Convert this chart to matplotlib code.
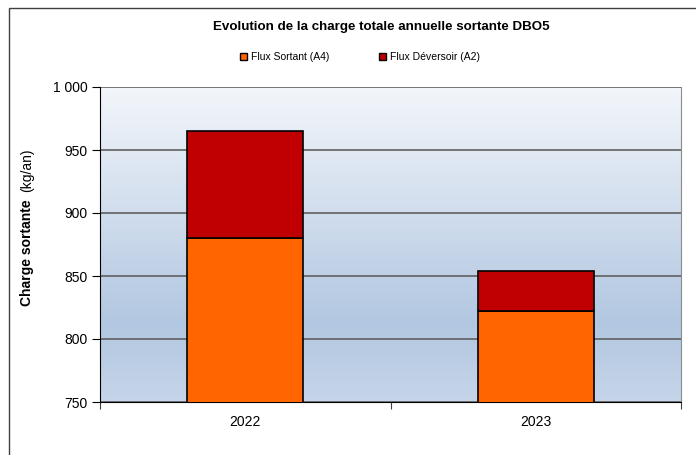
import numpy as np
import matplotlib
matplotlib.use('Agg')
import matplotlib.pyplot as plt
from matplotlib.patches import Patch, Rectangle
from matplotlib.colors import LinearSegmentedColormap

plt.rcParams['font.family'] = ['Liberation Sans', 'DejaVu Sans']

# données
annees = ['2022', '2023']
flux_sortant = [880, 822]    # A4
flux_deversoir = [85, 32]    # A2
yticks = [750, 800, 850, 900, 950, 1000]
ytick_labels = ['750', '800', '850', '900', '950', '1 000']

W, H = 696, 455
fig = plt.figure(figsize=(W / 100, H / 100), dpi=100)
ax = fig.add_axes([100 / W, 1 - 402 / H, (681 - 100) / W, (402 - 87) / H])

# fond dégradé de la zone de tracé
cmap = LinearSegmentedColormap.from_list('fond', [(0, '#c6d5e9'), (0.25, '#b2c7e1'), (1, '#f3f6fb')])
grad = np.linspace(0, 1, 256).reshape(-1, 1)
ax.imshow(grad, aspect='auto', cmap=cmap, origin='lower',
          extent=[-0.5, 1.5, 750, 1000], zorder=0)

x = np.arange(len(annees))
ax.bar(x, flux_sortant, width=0.4, bottom=0, color='#ff6600', edgecolor='black', linewidth=1.2, zorder=3)
ax.bar(x, flux_deversoir, width=0.4, bottom=flux_sortant, color='#c00000', edgecolor='black', linewidth=1.2, zorder=3)

ax.set_xlim(-0.5, 1.5)
ax.set_ylim(750, 1000)
ax.set_yticks(yticks)
ax.set_yticklabels(ytick_labels, fontsize=10)
ax.yaxis.grid(True, color='#606060', linewidth=1.2, zorder=1)
ax.set_axisbelow(True)

ax.set_xticks([-0.5, 0.5, 1.5])
ax.set_xticklabels([])
ax.set_xticks(x, minor=True)
ax.set_xticklabels(annees, minor=True, fontsize=10)
ax.tick_params(axis='x', which='minor', length=0, pad=9)
ax.tick_params(axis='x', which='major', length=5, direction='out', color='#404040')
ax.tick_params(axis='y', length=6, direction='out', pad=3)

ax.spines['top'].set_visible(False)
ax.spines['right'].set_color('#8c8c8c')
ax.spines['left'].set_color('black')
ax.spines['bottom'].set_color('black')

# titre et légende
fig.text(381 / W, 1 - 27 / H, 'Evolution de la charge totale annuelle sortante DBO5',
         ha='center', va='center', fontsize=9.6, fontweight='bold')
handles = [Patch(facecolor='#ff6600', edgecolor='black', label='Flux Sortant (A4)'),
           Patch(facecolor='#c00000', edgecolor='black', label='Flux Déversoir (A2)')]
fig.legend(handles=handles, loc='center', bbox_to_anchor=(360 / W, 1 - 57 / H), ncol=2,
           frameon=False, fontsize=7.5, handlelength=0.7, handleheight=0.7,
           handletextpad=0.4, columnspacing=4.7)

# titre de l'axe y (gras + normal)
fig.text(27 / W, 1 - 253 / H, 'Charge sortante', rotation=90, ha='center', va='center',
         fontsize=10, fontweight='bold')
fig.text(27 / W, 1 - 170 / H, '(kg/an)', rotation=90, ha='center', va='center', fontsize=10)

# cadre du graphique
fig.add_artist(Rectangle((9 / W, -0.1), 1.2, 1 - 8 / H + 0.1, transform=fig.transFigure,
                         fill=False, edgecolor='#404040', linewidth=1))

fig.savefig('out.png', dpi=100)
